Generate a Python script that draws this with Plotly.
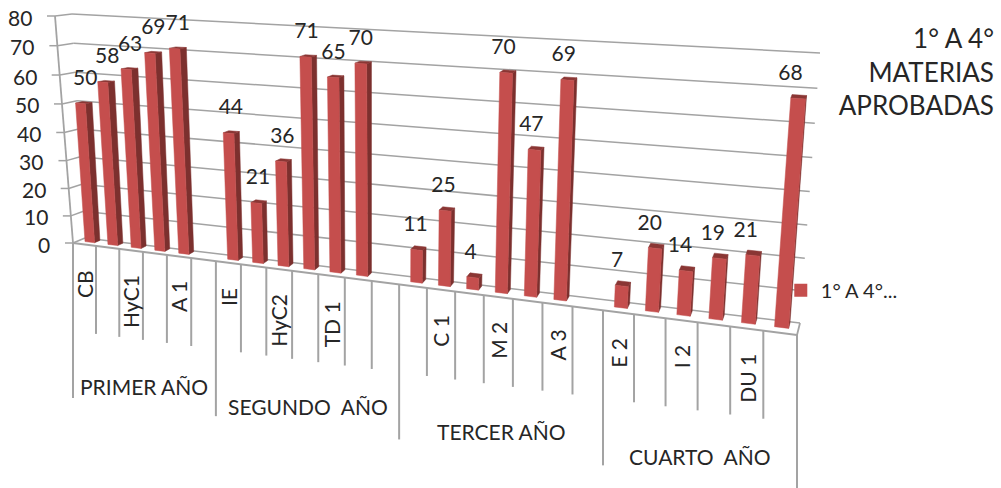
import plotly.graph_objects as go

# ---- data ----
slots = [0, 1, 2, 3, 4, 6, 7, 8, 9, 10, 11, 13, 14, 15, 16, 17, 18, 20, 21, 22, 23, 24, 25]
values = [50, 58, 63, 69, 71, 44, 21, 36, 71, 65, 70, 11, 25, 4, 70, 47, 69, 7, 20, 14, 19, 21, 68]
label_slots = [0, 2, 4, 6, 8, 10, 14, 16, 18, 20, 22, 24]
label_text = ["CB", "HyC1", "A 1", "IE", "HyC2", "TD 1", "C 1", "M 2", "A 3", "E 2", "I 2", "DU 1"]
groups = ["PRIMER AÑO", "SEGUNDO  AÑO", "TERCER AÑO", "CUARTO  AÑO"]
group_edges = [0, 6, 13, 20, 26]
value_ticks = [0, 10, 20, 30, 40, 50, 60, 70, 80]
title_text = "1° A 4°<br>MATERIAS<br>APROBADAS"
series_name = "1° A 4°..."

N_SLOTS = 26
VMAX = 80
FONT = "Lato"
INK = "#262626"
GRID = "#a3a3a3"

# ---- oblique 3D box projection (slot, depth, value) -> page pixels ----
A, B, C, D = (73, 243), (85, 238), (800, 323), (797, 335)   # floor corners
E, F, G, H = (55, 16), (72, 14), (820, 53), (818, 60)       # roof corners


def persp(w, q):
    return w / (q - (q - 1) * w)


def mix(p, q, k):
    return (p[0] + (q[0] - p[0]) * k, p[1] + (q[1] - p[1]) * k)


def project(slot, depth, value):
    s = persp(slot / N_SLOTS, 1.22)
    w = persp(value / VMAX, 1.054)
    front = mix(mix(A, E, w), mix(D, H, w), s)
    back = mix(mix(B, F, w), mix(C, G, w), s)
    return mix(front, back, depth)


def polys(list_of_polys):
    xs, ys = [], []
    for poly in list_of_polys:
        for p in poly + [poly[0]]:
            xs.append(p[0])
            ys.append(p[1])
        xs.append(None)
        ys.append(None)
    return xs, ys


def lines(list_of_lines):
    xs, ys = [], []
    for a, b in list_of_lines:
        xs += [a[0], b[0], None]
        ys += [a[1], b[1], None]
    return xs, ys


fig = go.Figure()


def add_lines(segments, width=1.6, color=GRID):
    x, y = lines(segments)
    fig.add_trace(go.Scatter(x=x, y=y, mode="lines", line=dict(color=color, width=width),
                             hoverinfo="skip", showlegend=False))


# walls, gridlines, tick stubs
add_lines([(project(0, 1, v), project(N_SLOTS, 1, v)) for v in value_ticks], 1.5)
add_lines([(project(0, 0, v), project(0, 1, v)) for v in value_ticks], 1.5)
add_lines([(project(0, 0, 0), project(0, 0, VMAX))], 1.8)
add_lines([(project(N_SLOTS, 0, 0), project(N_SLOTS, 1, 0))], 1.8)
add_lines([(project(0, 0, 0), project(N_SLOTS, 0, 0))], 2)
stub = []
for v in value_ticks:
    p = project(0, 0, v)
    stub.append(((p[0] - 8, p[1]), p))
add_lines(stub, 1.5)

# category ticks hanging below the floor
MINOR_DROP, MAJOR_DROP = 88, 155
ticks = []
for t in range(N_SLOTS + 1):
    p = project(t, 0, 0)
    ticks.append((p, (p[0], p[1] + (MAJOR_DROP if t in group_edges else MINOR_DROP))))
add_lines(ticks, 2)

# bars
T0, T1, D0, D1 = 0.29, 0.71, 0.45, 0.9
fronts, sides, tops = [], [], []
for t, v in zip(slots, values):
    fronts.append([project(t + T0, D0, 0), project(t + T1, D0, 0), project(t + T1, D0, v), project(t + T0, D0, v)])
    sides.append([project(t + T1, D0, 0), project(t + T1, D1, 0), project(t + T1, D1, v), project(t + T1, D0, v)])
    tops.append([project(t + T0, D0, v), project(t + T1, D0, v), project(t + T1, D1, v), project(t + T0, D1, v)])
for faces, col in ((sides, "#7C302E"), (tops, "#8A3634"), (fronts, "#C54E4D")):
    x, y = polys(faces)
    fig.add_trace(go.Scatter(x=x, y=y, mode="lines", fill="toself", fillcolor=col,
                             line=dict(color=col, width=0.5), hoverinfo="skip", showlegend=False))

# value labels above the bars
lx, ly = [], []
for t, v in zip(slots, values):
    p = project(t + 0.5, D0, v)
    k = persp((t + 0.5) / N_SLOTS, 1.22)
    lx.append(p[0] + 5 - 13 * k)
    ly.append(p[1] - 24)
fig.add_trace(go.Scatter(x=lx, y=ly, mode="text", text=[str(v) for v in values],
                         textposition="middle center", textfont=dict(family=FONT, size=21, color=INK),
                         hoverinfo="skip", showlegend=False))

# value axis labels
for v in value_ticks:
    p = project(0, 0, v)
    fig.add_annotation(x=p[0] - 21, y=p[1] + 1, text=str(v), showarrow=False, xanchor="right", yanchor="middle",
                       font=dict(family=FONT, size=21, color=INK))

# category labels
for t, s in zip(label_slots, label_text):
    p = project(t + 0.5, 0, 0)
    fig.add_annotation(x=p[0], y=p[1] + 23, text=s, textangle=-90, showarrow=False, xanchor="center", yanchor="top",
                       font=dict(family=FONT, size=21, color=INK))

# group labels
for i, g in enumerate(groups):
    a, b = project(group_edges[i], 0, 0), project(group_edges[i + 1], 0, 0)
    fig.add_annotation(x=(a[0] + b[0]) / 2, y=(a[1] + b[1]) / 2 + 134, text=g.replace("  ", "&nbsp;&nbsp;"),
                       showarrow=False, xanchor="center", yanchor="middle",
                       font=dict(family=FONT, size=21, color=INK))

# legend entry
fig.add_trace(go.Scatter(x=[None], y=[None], mode="markers", name=series_name,
                         marker=dict(symbol="square", size=13, color="#C54E4D")))

fig.update_layout(
    width=1001, height=488, autosize=False,
    margin=dict(l=0, r=0, t=0, b=0),
    paper_bgcolor="white", plot_bgcolor="white",
    xaxis=dict(range=[0, 1001], visible=False, fixedrange=True),
    yaxis=dict(range=[488, 0], visible=False, fixedrange=True),
    title=dict(text=title_text, x=0.993, xanchor="right", xref="paper", y=0.902, yanchor="top", yref="container",
               font=dict(family=FONT, size=26, color=INK)),
    legend=dict(x=0.78, y=0.405, xanchor="left", yanchor="middle", bgcolor="rgba(0,0,0,0)",
                font=dict(family=FONT, size=20, color=INK), itemwidth=30),
    showlegend=True,
)

fig.write_html("out.html", config={"displayModeBar": False},
               post_script="document.body.style.margin='0';document.documentElement.style.overflow='hidden';")
